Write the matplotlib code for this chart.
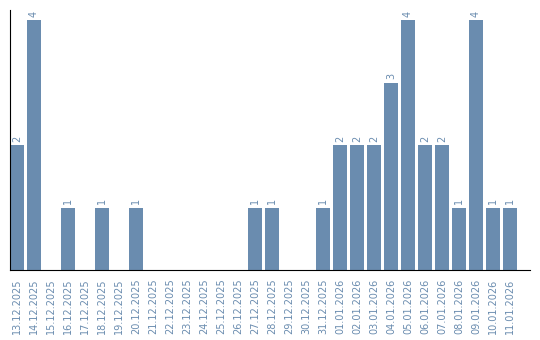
import matplotlib
matplotlib.use('Agg')
import matplotlib.pyplot as plt
import numpy as np

# данные
dates = ['13.12.2025', '14.12.2025', '15.12.2025', '16.12.2025', '17.12.2025',
         '18.12.2025', '19.12.2025', '20.12.2025', '21.12.2025', '22.12.2025',
         '23.12.2025', '24.12.2025', '25.12.2025', '26.12.2025', '27.12.2025',
         '28.12.2025', '29.12.2025', '30.12.2025', '31.12.2025', '01.01.2026',
         '02.01.2026', '03.01.2026', '04.01.2026', '05.01.2026', '06.01.2026',
         '07.01.2026', '08.01.2026', '09.01.2026', '10.01.2026', '11.01.2026']
counts = [2, 4, 0, 1, 0, 1, 0, 1, 0, 0, 0, 0, 0, 0, 1,
          1, 0, 0, 1, 2, 2, 2, 3, 4, 2, 2, 1, 4, 1, 1]

color = '#6a8caf'

fig = plt.figure(figsize=(5.4, 3.4), dpi=100)
ax = fig.add_axes([10 / 540, 70 / 340, 520 / 540, 260 / 340])

x = np.arange(len(dates))
ax.bar(x, counts, width=0.82, color=color)

for xi, v in zip(x, counts):
    if v > 0:
        ax.text(xi, v + 0.05, str(v), rotation=90, ha='center', va='bottom',
                fontsize=7, color=color)

ax.set_xlim(-0.41, 30.18)
ax.set_ylim(0, 4.16)
ax.set_xticks(x)
ax.set_xticklabels(dates, rotation=90, fontsize=7, color=color)
ax.tick_params(axis='x', length=0, pad=6)
ax.set_yticks([])
ax.spines['top'].set_visible(False)
ax.spines['right'].set_visible(False)

fig.savefig('out.png', dpi=100)
